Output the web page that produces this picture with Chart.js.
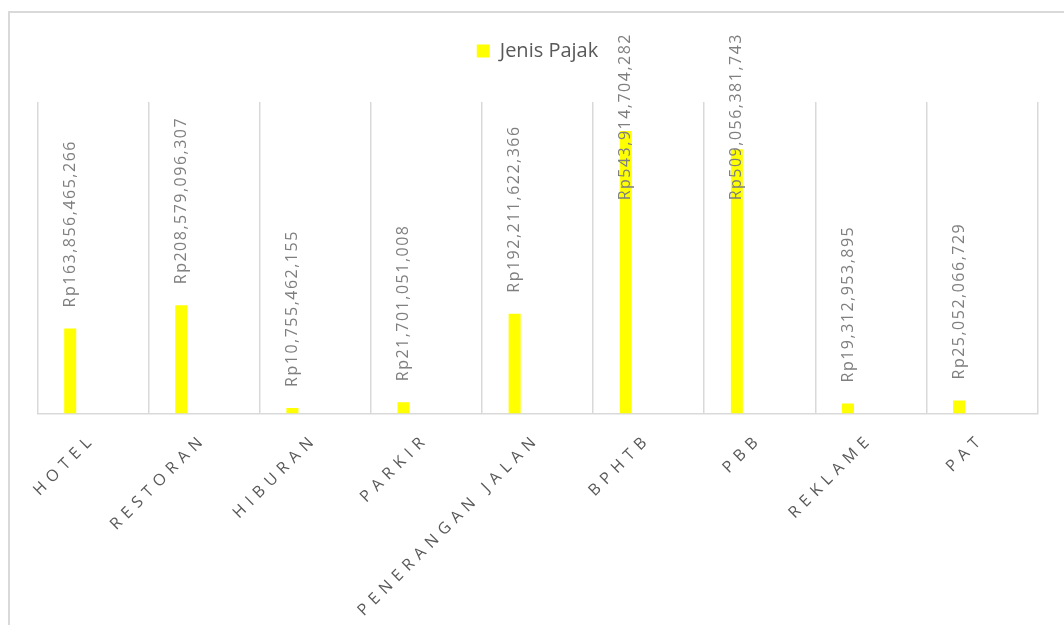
<!DOCTYPE html>
<html>
<head>
<meta charset="utf-8">
<script src="https://cdn.jsdelivr.net/npm/chart.js@4.4.0/dist/chart.umd.min.js"></script>
<style>
  html, body { margin: 0; padding: 0; background: #fff; overflow: hidden; }
  #frame { position: absolute; left: 8px; top: 11px; width: 1100px; height: 700px; border: 2px solid #d9d9d9; }
  #wrap { position: absolute; left: 0; top: 0; width: 1064px; height: 625px; }
</style>
</head>
<body>
<div id="frame"></div>
<div id="wrap"><canvas id="pajakChart"></canvas></div>
<script>
const categories = ['HOTEL', 'RESTORAN', 'HIBURAN', 'PARKIR', 'PENERANGAN JALAN', 'BPHTB', 'PBB', 'REKLAME', 'PAT'];
const pajakValues = [163856465266, 208579096307, 10755462155, 21701051008, 192211622366, 543914704282, 509056381743, 19312953895, 25052066729];
const seriesName = 'Jenis Pajak';
const yMax = 600000000000;

// extra room under the legend + spaced-out category labels
const layoutTweaks = {
  id: 'layoutTweaks',
  beforeLayout(chart) {
    const lg = chart.legend;
    if (lg && !lg._padded) {
      const fit = lg.fit.bind(lg);
      lg.fit = function () { fit(); this.height += 31; };
      lg._padded = true;
    }
  },
  beforeDraw(chart) {
    const s = chart.scales.x;
    if (s._spaced) return;
    const orig = s.drawLabels.bind(s);
    s.drawLabels = function (area) {
      chart.ctx.save();
      chart.ctx.letterSpacing = '6px';
      orig(area);
      chart.ctx.restore();
    };
    s._spaced = true;
  }
};

// rotated value labels above the bars
const valueLabels = {
  id: 'valueLabels',
  afterDatasetsDraw(chart) {
    const ctx = chart.ctx;
    const meta = chart.getDatasetMeta(0);
    ctx.save();
    ctx.font = '16px "Open Sans"';
    ctx.letterSpacing = '1.5px';
    ctx.fillStyle = '#7f7f7f';
    ctx.textAlign = 'left';
    ctx.textBaseline = 'middle';
    meta.data.forEach((bar, i) => {
      const text = 'Rp' + pajakValues[i].toLocaleString('en-US');
      const w = ctx.measureText(text).width;
      let start = bar.y - 21;
      if (start - w < 33) start = 33 + w;
      ctx.save();
      ctx.translate(bar.x, start);
      ctx.rotate(-Math.PI / 2);
      ctx.fillText(text, 0, 0);
      ctx.restore();
    });
    ctx.restore();
  }
};

const ctx = document.getElementById('pajakChart').getContext('2d');
new Chart(ctx, {
  type: 'bar',
  data: {
    labels: categories,
    datasets: [
      { label: seriesName, data: pajakValues, backgroundColor: '#ffff00', categoryPercentage: 0.823, barPercentage: 0.263 },
      { label: '', data: categories.map(() => null), categoryPercentage: 0.823, barPercentage: 0.263 }
    ]
  },
  options: {
    responsive: true,
    maintainAspectRatio: false,
    animation: false,
    layout: { padding: { left: 37.5, right: 26.5, top: 31, bottom: 0 } },
    plugins: {
      legend: {
        position: 'top',
        labels: {
          filter: item => item.datasetIndex === 0,
          boxWidth: 13,
          boxHeight: 13,
          padding: 10,
          color: '#595959',
          font: { family: 'Open Sans', size: 20 }
        }
      },
      tooltip: { enabled: false }
    },
    scales: {
      x: {
        grid: { color: '#d9d9d9', lineWidth: 1.5, drawTicks: false, offset: true },
        border: { color: '#d9d9d9', width: 1.5 },
        ticks: {
          autoSkip: false,
          minRotation: 45,
          maxRotation: 45,
          padding: 16,
          color: '#595959',
          font: { family: 'Open Sans', size: 16 }
        },
        afterFit(scale) { scale.height = 211.5; }
      },
      y: {
        display: false,
        min: 0,
        max: yMax
      }
    }
  },
  plugins: [layoutTweaks, valueLabels]
});
</script>
</body>
</html>
